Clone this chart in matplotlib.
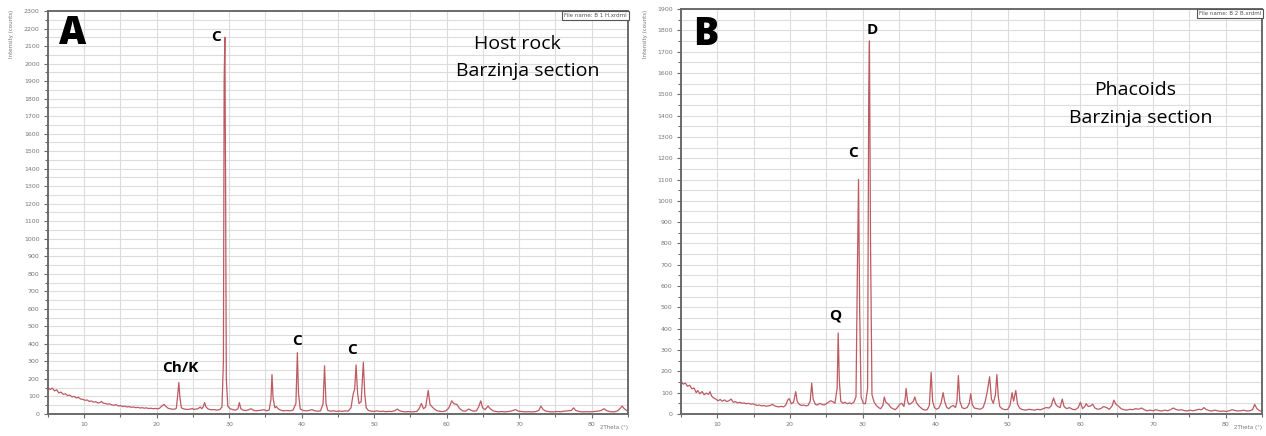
import matplotlib
import matplotlib.pyplot as plt
from matplotlib.ticker import MultipleLocator

matplotlib.use("AGG")

# XRD pattern (host rock)
two_theta_a = [
    5.0, 5.3, 5.6, 5.9, 6.2, 6.5, 6.8, 7.1, 7.4, 7.7, 8.0, 8.3, 8.6, 8.9, 9.2, 9.5, 9.8,
    10.1, 10.4, 10.7, 11.0, 11.3, 11.6, 11.9, 12.2, 12.4, 12.6, 12.9, 13.2, 13.5, 13.8,
    14.1, 14.4, 14.7, 15.0, 15.3, 15.6, 15.9, 16.2, 16.5, 16.8, 17.1, 17.4, 17.7, 18.0,
    18.3, 18.6, 18.9, 19.2, 19.5, 19.8, 20.1, 20.4, 20.7, 21.0, 21.3, 21.6, 22.0, 22.4,
    22.7, 22.9, 23.05, 23.2, 23.4, 23.8, 24.2, 24.6, 24.9, 25.1, 25.4, 25.7, 26.0, 26.2,
    26.4, 26.6, 26.8, 27.1, 27.5, 27.9, 28.3, 28.7, 29.0, 29.2, 29.3, 29.4, 29.5, 29.6,
    29.8, 30.1, 30.5, 30.9, 31.2, 31.4, 31.6, 31.9, 32.3, 32.7, 33.0, 33.3, 33.7, 34.1,
    34.5, 34.8, 35.1, 35.5, 35.75, 35.9, 36.05, 36.3, 36.5, 36.8, 37.2, 37.6, 38.0, 38.4,
    38.8, 39.2, 39.4, 39.55, 39.8, 40.2, 40.6, 41.0, 41.4, 41.8, 42.2, 42.6, 42.95, 43.15,
    43.35, 43.6, 44.0, 44.4, 44.8, 45.2, 45.6, 46.0, 46.4, 46.8, 47.1, 47.3, 47.5, 47.7,
    47.9, 48.2, 48.5, 48.7, 48.9, 49.2, 49.6, 50.0, 50.4, 50.8, 51.2, 51.6, 52.0, 52.4,
    52.8, 53.2, 53.5, 53.9, 54.3, 54.7, 55.1, 55.5, 55.9, 56.2, 56.5, 56.8, 57.1, 57.45,
    57.7, 58.0, 58.3, 58.7, 59.1, 59.5, 59.9, 60.3, 60.7, 61.0, 61.4, 61.8, 62.2, 62.6,
    63.0, 63.3, 63.7, 64.1, 64.4, 64.7, 64.95, 65.3, 65.7, 66.0, 66.4, 66.8, 67.2, 67.6,
    68.0, 68.5, 69.0, 69.5, 69.9, 70.3, 70.8, 71.3, 71.8, 72.3, 72.7, 73.0, 73.3, 73.7,
    74.2, 74.7, 75.2, 75.7, 76.2, 76.7, 77.2, 77.5, 77.8, 78.3, 78.8, 79.3, 79.8, 80.3,
    80.8, 81.3, 81.7, 82.1, 82.6, 83.1, 83.6, 84.0, 84.2, 84.5, 84.8, 85.0,
]
counts_a = [
    150, 140, 148, 132, 138, 120, 125, 112, 115, 105, 108, 98, 100, 92, 95, 85, 84,
    78, 80, 72, 74, 68, 70, 62, 66, 72, 62, 60, 56, 58, 52,
    50, 53, 46, 48, 42, 45, 40, 42, 38, 40, 36, 38, 34, 36,
    33, 35, 31, 33, 30, 32, 29, 33, 45, 55, 42, 32, 28, 27,
    32, 110, 180, 95, 35, 28, 26, 27, 32, 26, 28, 30, 40, 30,
    40, 65, 40, 28, 24, 25, 22, 25, 40, 300, 1900, 2150, 1300, 200,
    45, 30, 25, 22, 30, 65, 30, 22, 20, 24, 30, 22, 18, 20,
    22, 25, 18, 22, 80, 225, 90, 35, 42, 28, 20, 18, 20, 18,
    22, 60, 350, 120, 28, 20, 18, 20, 25, 18, 16, 18, 60, 275,
    60, 20, 16, 18, 15, 17, 15, 18, 16, 35, 115, 140, 280, 120,
    60, 70, 295, 110, 35, 20, 16, 15, 18, 14, 16, 13, 15, 14,
    18, 28, 18, 14, 12, 14, 12, 13, 15, 30, 60, 30, 40, 135,
    55, 40, 28, 18, 15, 14, 18, 35, 75, 58, 55, 30, 18, 16,
    28, 22, 16, 18, 40, 75, 35, 25, 45, 30, 18, 14, 12, 14,
    12, 14, 18, 25, 16, 14, 12, 13, 12, 14, 20, 45, 25, 16,
    13, 12, 14, 13, 16, 18, 20, 35, 20, 14, 12, 13, 12, 14,
    16, 20, 30, 18, 13, 12, 18, 35, 45, 30, 20, 15,
]

# XRD pattern (phacoids)
two_theta_b = [
    5.0, 5.3, 5.6, 5.9, 6.2, 6.5, 6.8, 7.1, 7.3, 7.6, 7.9, 8.2, 8.5, 8.8, 9.0, 9.2, 9.5,
    9.8, 10.1, 10.4, 10.7, 11.0, 11.3, 11.6, 11.9, 12.2, 12.5, 12.8, 13.1, 13.4, 13.7,
    14.0, 14.3, 14.6, 14.9, 15.2, 15.5, 15.8, 16.1, 16.4, 16.7, 17.0, 17.3, 17.6, 17.9,
    18.2, 18.5, 18.8, 19.1, 19.4, 19.7, 19.9, 20.2, 20.5, 20.8, 21.0, 21.3, 21.6, 21.9,
    22.2, 22.5, 22.8, 23.0, 23.2, 23.5, 23.8, 24.1, 24.4, 24.7, 25.0, 25.3, 25.6, 25.9,
    26.2, 26.5, 26.65, 26.8, 27.0, 27.3, 27.6, 27.9, 28.2, 28.5, 28.8, 29.1, 29.3, 29.45,
    29.6, 29.8, 30.1, 30.4, 30.7, 30.85, 30.95, 31.1, 31.3, 31.6, 31.9, 32.2, 32.5, 32.8,
    33.0, 33.2, 33.6, 33.9, 34.2, 34.5, 34.8, 35.1, 35.4, 35.7, 35.9, 36.0, 36.2, 36.4,
    36.7, 37.0, 37.2, 37.4, 37.7, 38.0, 38.3, 38.6, 38.9, 39.2, 39.45, 39.65, 39.9, 40.2,
    40.5, 40.8, 41.1, 41.3, 41.6, 41.9, 42.2, 42.5, 42.8, 43.0, 43.2, 43.4, 43.7, 44.0,
    44.4, 44.7, 44.9, 45.1, 45.4, 45.8, 46.2, 46.6, 46.9, 47.2, 47.5, 47.75, 48.0, 48.3,
    48.5, 48.7, 48.9, 49.2, 49.6, 50.0, 50.3, 50.6, 50.8, 51.1, 51.35, 51.7, 52.1, 52.5,
    52.9, 53.3, 53.7, 54.1, 54.5, 54.9, 55.3, 55.7, 56.0, 56.3, 56.6, 56.9, 57.2, 57.5,
    57.75, 58.1, 58.5, 58.9, 59.3, 59.7, 60.0, 60.3, 60.6, 60.8, 61.1, 61.4, 61.7, 62.0,
    62.4, 62.8, 63.2, 63.6, 64.0, 64.4, 64.6, 64.9, 65.2, 65.6, 66.0, 66.4, 66.8, 67.2,
    67.6, 68.0, 68.4, 68.8, 69.2, 69.6, 70.0, 70.4, 70.8, 71.2, 71.6, 72.0, 72.4, 72.8,
    73.1, 73.5, 73.9, 74.3, 74.7, 75.1, 75.5, 75.9, 76.3, 76.7, 77.0, 77.3, 77.7, 78.1,
    78.5, 78.9, 79.3, 79.7, 80.1, 80.5, 80.9, 81.3, 81.7, 82.1, 82.5, 82.9, 83.3, 83.7,
    84.0, 84.3, 84.7, 85.0,
]
counts_b = [
    155, 140, 145, 130, 135, 118, 122, 100, 110, 95, 105, 90, 98, 92, 105, 85, 75,
    70, 62, 68, 60, 66, 58, 62, 70, 55, 58, 52, 55, 50, 52,
    48, 50, 46, 48, 44, 40, 42, 38, 40, 36, 38, 40, 45, 38,
    35, 33, 36, 33, 40, 65, 72, 48, 55, 105, 60, 45, 40, 42,
    38, 40, 60, 145, 70, 45, 42, 50, 45, 42, 48, 55, 62, 58,
    50, 120, 380, 160, 60, 50, 55, 48, 52, 48, 55, 80, 700, 1100,
    500, 80, 50, 48, 120, 1500, 1750, 800, 90, 55, 40, 30, 25, 40,
    80, 55, 45, 30, 25, 20, 30, 45, 50, 35, 80, 120, 60, 45,
    50, 60, 80, 55, 40, 30, 22, 18, 20, 40, 195, 60, 30, 22,
    28, 50, 100, 60, 30, 25, 35, 40, 30, 60, 180, 60, 30, 25,
    30, 50, 95, 45, 28, 25, 22, 30, 60, 110, 175, 70, 50, 90,
    185, 80, 35, 25, 20, 22, 40, 100, 60, 110, 45, 25, 20, 18,
    22, 20, 18, 22, 20, 25, 30, 28, 40, 75, 45, 35, 30, 70,
    35, 25, 30, 22, 20, 30, 55, 25, 35, 48, 35, 38, 45, 28,
    22, 25, 35, 30, 22, 40, 65, 45, 38, 25, 20, 18, 22, 20,
    25, 22, 28, 20, 15, 18, 15, 20, 16, 14, 18, 15, 20, 28,
    22, 18, 20, 16, 14, 18, 15, 18, 22, 20, 30, 22, 16, 14,
    18, 15, 12, 14, 12, 15, 20, 16, 14, 15, 18, 14, 15, 20,
    45, 25, 15, 12,
]

# peak labels: (text, 2theta, counts)
peaks_a = [("C", 28.2, 2150), ("Ch/K", 23.2, 263), ("C", 39.4, 417), ("C", 47.0, 365)]
peaks_b = [("D", 31.3, 1801), ("C", 28.7, 1224), ("Q", 26.2, 460)]

line_color = "#bd5a62"
grid_color = "#dcdcdc"
frame_color = "#6a6a6a"
tick_color = "#6a6a6a"
font = ["Open Sans", "DejaVu Sans"]


def style_axis(ax, ymax, file_name):
    ax.set_xlim(5, 85)
    ax.set_ylim(0, ymax)
    ax.xaxis.set_major_locator(MultipleLocator(10))
    ax.xaxis.set_minor_locator(MultipleLocator(5))
    ax.yaxis.set_major_locator(MultipleLocator(100))
    ax.yaxis.set_minor_locator(MultipleLocator(50))
    ax.grid(True, which="both", color=grid_color, linewidth=0.8)
    ax.set_axisbelow(True)
    for side in ax.spines.values():
        side.set_color(frame_color)
        side.set_linewidth(1.4)
    ax.tick_params(which="both", direction="out", color=tick_color,
                   labelsize=4.5, labelcolor="#777777", width=0.8)
    ax.tick_params(which="major", length=3, pad=3)
    ax.tick_params(which="minor", length=2)
    ax.text(0.998, 0.996, f"File name: {file_name}", transform=ax.transAxes,
            ha="right", va="top", fontsize=4, color="#555555",
            bbox=dict(boxstyle="square,pad=0.35", facecolor="white",
                      edgecolor="#555555", linewidth=0.8))
    ax.text(1.0, -0.028, "2Theta (°)", transform=ax.transAxes, ha="right",
            va="top", fontsize=4, color="#777777")


fig = plt.figure(figsize=(12.66, 4.36), dpi=100)
ax_a = fig.add_axes([0.0379, 0.0505, 0.4581, 0.9243])
ax_b = fig.add_axes([0.5379, 0.0505, 0.4589, 0.9289])

ax_a.plot(two_theta_a, counts_a, color=line_color, linewidth=0.9)
ax_b.plot(two_theta_b, counts_b, color=line_color, linewidth=0.9)

style_axis(ax_a, 2300, "B 1 H.xrdml")
style_axis(ax_b, 1900, "B 2 B.xrdml")

for ax, peaks in ((ax_a, peaks_a), (ax_b, peaks_b)):
    for label, x, y in peaks:
        ax.text(x, y, label, ha="center", va="center", fontsize=11,
                fontweight="bold", family=font, color="black")

ax_a.text(0.043, 0.944, "A", transform=ax_a.transAxes, ha="center", va="center",
          fontsize=27, fontweight="heavy", family=font)
ax_b.text(0.043, 0.937, "B", transform=ax_b.transAxes, ha="center", va="center",
          fontsize=27, fontweight="heavy", family=font)

ax_a.text(0.810, 0.918, "Host rock", transform=ax_a.transAxes, ha="center",
          va="center", fontsize=14, family=font)
ax_a.text(0.828, 0.851, "Barzinja section", transform=ax_a.transAxes, ha="center",
          va="center", fontsize=14, family=font)
ax_b.text(0.781, 0.801, "Phacoids", transform=ax_b.transAxes, ha="center",
          va="center", fontsize=14, family=font)
ax_b.text(0.792, 0.732, "Barzinja section", transform=ax_b.transAxes, ha="center",
          va="center", fontsize=14, family=font)

for x in (12, 646):
    fig.text(x / 1266, 1 - 10 / 436, "Intensity (counts)", rotation=90,
             ha="center", va="top", fontsize=4, color="#777777")

fig.savefig("out.png", dpi=100)
